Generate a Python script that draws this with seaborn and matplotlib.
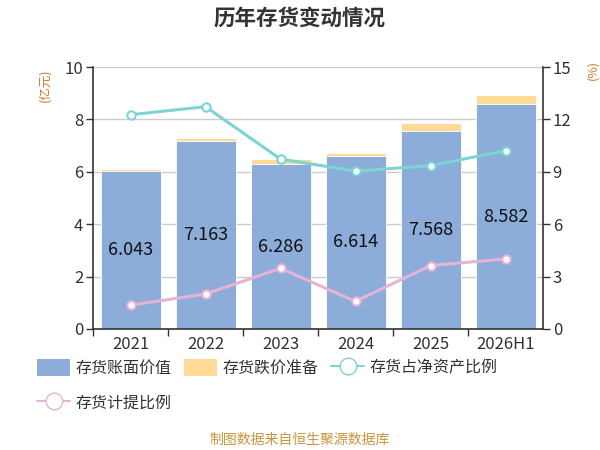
import matplotlib
matplotlib.use('Agg')
import matplotlib.pyplot as plt
import seaborn as sns
import numpy as np
import pandas as pd
from matplotlib.patches import Patch
from matplotlib.lines import Line2D

# data
years = ['2021', '2022', '2023', '2024', '2025', '2026H1']
book_value = [6.043, 7.163, 6.286, 6.614, 7.568, 8.582]       # 存货账面价值 (亿元)
provision = [0.07, 0.13, 0.20, 0.10, 0.28, 0.35]               # 存货跌价准备 (亿元)
ratio_net_assets = [12.27, 12.73, 9.73, 9.04, 9.35, 10.21]     # 存货占净资产比例 (%)
ratio_provision = [1.36, 2.00, 3.47, 1.58, 3.63, 4.01]        # 存货计提比例 (%)

sns.set_theme(style='white')
plt.rcParams['font.family'] = ['Noto Sans CJK SC', 'DejaVu Sans']

blue = '#8CACD9'
orange = '#FFD996'
cyan = '#7ED3D4'
pink = '#E6B3D6'
txt = '#333333'

df = pd.DataFrame({'year': years, 'book': book_value,
                   'total': np.array(book_value) + np.array(provision)})

fig = plt.figure(figsize=(6, 4.5), dpi=100)
ax = fig.add_axes([0.155, 0.269, 0.75, 0.582])

# total first (orange shows as provision on top), then book value over it
sns.barplot(data=df, x='year', y='total', color=orange, width=0.8,
            saturation=1, ax=ax, edgecolor='white', linewidth=0.6)
sns.barplot(data=df, x='year', y='book', color=blue, width=0.8,
            saturation=1, ax=ax, edgecolor='white', linewidth=0.6)

for i, v in enumerate(book_value):
    ax.text(i, v / 2, f'{v:.3f}', ha='center', va='center', fontsize=13,
            color='#111111')

ax.set_ylim(0, 10)
ax.set_yticks([0, 2, 4, 6, 8, 10])
ax.set_xlim(-0.5, len(years) - 0.5)
ax.set_xlabel('')
ax.set_ylabel('')
ax.yaxis.grid(True, color='#cccccc', linewidth=1)
ax.set_axisbelow(True)
ax.tick_params(axis='y', labelsize=12, colors='#333333', length=5, width=1, left=True,
               labelcolor=txt, pad=2)
ax.tick_params(axis='x', labelsize=12, labelcolor=txt, length=0, pad=5)
ax.set_xticks(np.arange(len(years)) - 0.5, minor=True)
ax.tick_params(axis='x', which='minor', length=5, width=1, color='#333333', bottom=True)
for s in ['left', 'bottom']:
    ax.spines[s].set_color('#333333')
    ax.spines[s].set_linewidth(1.2)
ax.spines['top'].set_visible(False)
ax.spines['right'].set_visible(False)

ax2 = ax.twinx()
x = np.arange(len(years))
sns.lineplot(x=x, y=ratio_net_assets, ax=ax2, color=cyan, linewidth=2.2,
             marker='o', markersize=6, markerfacecolor='white',
             markeredgecolor=cyan, markeredgewidth=1.5)
sns.lineplot(x=x, y=ratio_provision, ax=ax2, color=pink, linewidth=2.2,
             marker='o', markersize=6, markerfacecolor='white',
             markeredgecolor=pink, markeredgewidth=1.5)
ax2.set_ylim(0, 15)
ax2.set_yticks([0, 3, 6, 9, 12, 15])
ax2.grid(False)
ax2.tick_params(axis='y', labelsize=12, labelcolor=txt, right=True, length=5,
                width=1, color='#333333', pad=2)
for s in ['top', 'left', 'bottom']:
    ax2.spines[s].set_visible(False)
ax2.spines['right'].set_color('#333333')
ax2.spines['right'].set_linewidth(1.2)

fig.text(0.5, 0.96, '历年存货变动情况', ha='center', va='center', fontsize=15.5,
         fontweight='bold', color=txt)
fig.text(0.075, 0.81, '(亿元)', rotation=90, ha='center', va='center',
         fontsize=9, color='#D07A30')
fig.text(0.988, 0.845, '(%)', rotation=90, ha='center', va='center',
         fontsize=9, color='#D07A30')
fig.text(0.5, 0.022, '制图数据来自恒生聚源数据库', ha='center', va='center',
         fontsize=10, color='#C8963E')

h_book = Patch(facecolor=blue, edgecolor='none', label='存货账面价值')
h_prov = Patch(facecolor=orange, edgecolor='none', label='存货跌价准备')
h_net = Line2D([0], [0], color=cyan, linewidth=1.5, marker='o', markersize=12,
               markerfacecolor='white', markeredgecolor=cyan, label='存货占净资产比例')
h_rat = Line2D([0], [0], color=pink, linewidth=1.5, marker='o', markersize=12,
               markerfacecolor='white', markeredgecolor=pink, label='存货计提比例')
# legend fills column by column, so order for row layout A B C / D
fig.legend(handles=[h_book, h_rat, h_prov, h_net], loc='upper left',
           bbox_to_anchor=(0.062, 0.203), ncol=3, frameon=False, fontsize=11.5,
           handlelength=2.05, handleheight=1.3, handletextpad=0.35,
           columnspacing=0.8, labelspacing=1.05, labelcolor=txt,
           borderaxespad=0, borderpad=0)

fig.savefig('out.png', dpi=100)
